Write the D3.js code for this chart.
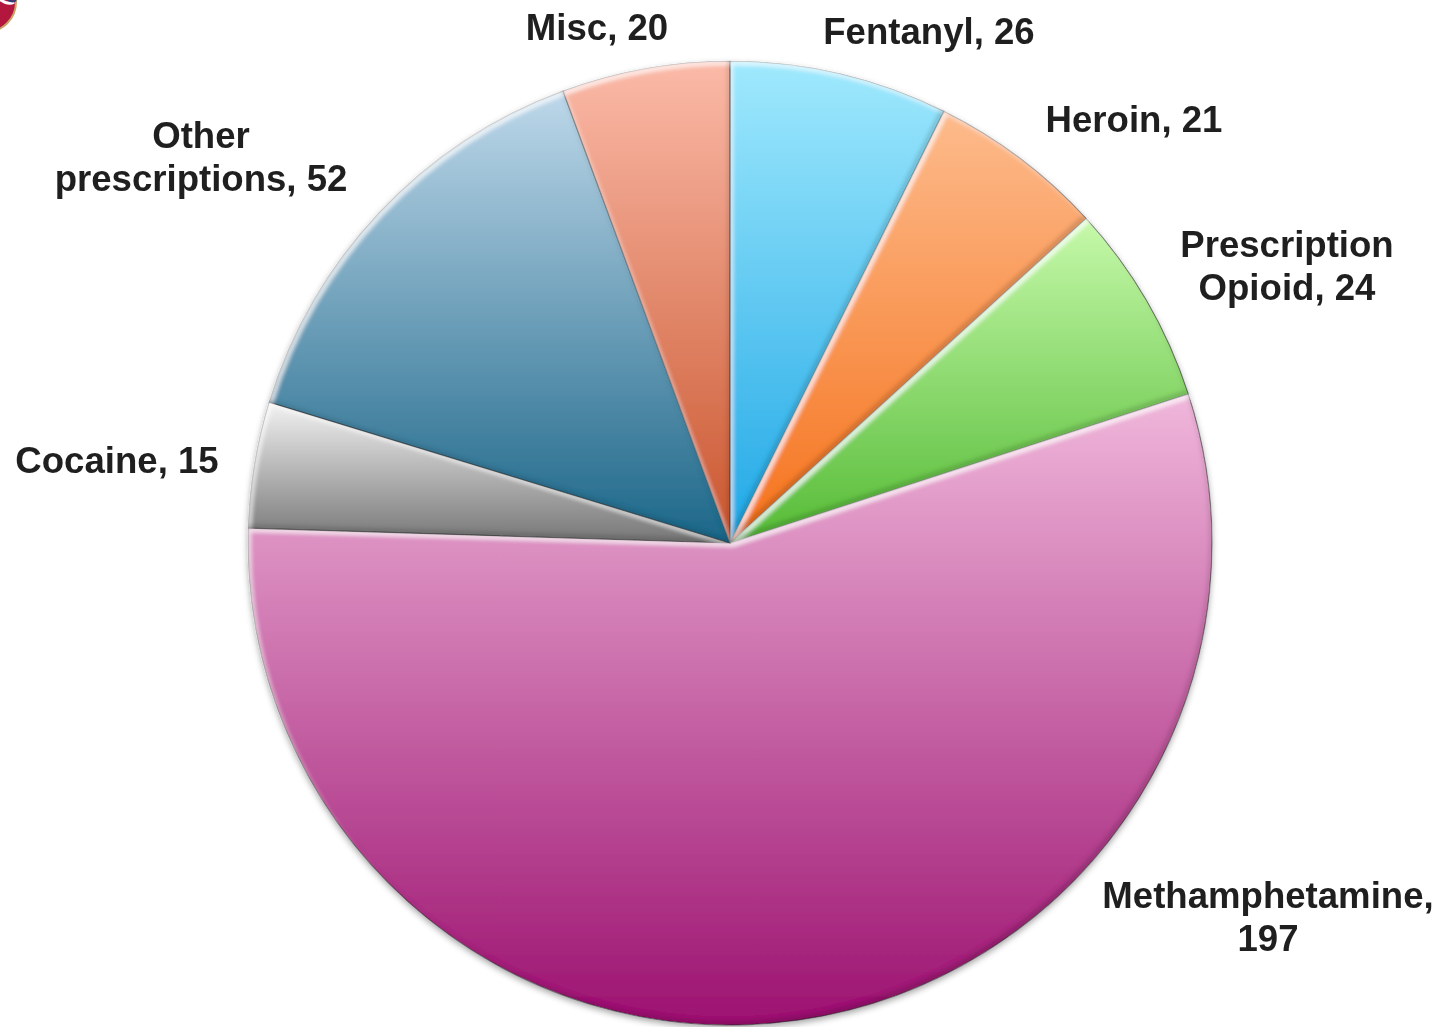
<!DOCTYPE html>
<html>
<head>
<meta charset="utf-8">
<script src="https://cdnjs.cloudflare.com/ajax/libs/d3/7.8.5/d3.min.js"></script>
<style>
  html, body { margin: 0; padding: 0; background: #fff; }
  svg { display: block; }
  .lbl { font-family: "Liberation Sans", Arial, sans-serif; font-weight: bold; font-size: 36.6px; fill: #1f1f1f; }
</style>
</head>
<body>
<svg id="chart" width="1451" height="1027"></svg>
<script>
// data, clockwise from 12 o'clock
var categories = ["Fentanyl", "Heroin", "Prescription Opioid", "Methamphetamine", "Cocaine", "Other prescriptions", "Misc"];
var counts = [26, 21, 24, 197, 15, 52, 20];
// label wraps after this many words (0 = single line)
var wrapAfter = [0, 0, 1, 1, 0, 1, 0];

// gradient colours, top -> bottom of each slice
var topColors = ["#a0e9fd", "#fdbb8c", "#c6f9aa", "#f0b7db", "#f2f2f2", "#bed8ea", "#fbbaa8"];
var bottomColors = ["#20a8e6", "#f5721c", "#55bb36", "#9c1270", "#767676", "#1c6688", "#c9562e"];

// label block centres, relative to pie centre
var labelXY = [[199, -512], [404, -424], [557, -278], [538, 373], [-613, -83], [-529, -387], [-133, -516]];

var svg = d3.select("#chart");
var cx = 730, cy = 543, radius = 482;

var defs = svg.append("defs");

var shadow = defs.append("filter").attr("id", "shadow")
    .attr("x", "-10%").attr("y", "-10%").attr("width", "120%").attr("height", "120%");
shadow.append("feDropShadow").attr("dx", 0).attr("dy", 3).attr("stdDeviation", 3)
    .attr("flood-color", "#000").attr("flood-opacity", 0.35);

// bevel: light band along top-left edges, dark along bottom-right
var bevel = defs.append("filter").attr("id", "bevel")
    .attr("x", "-5%").attr("y", "-5%").attr("width", "110%").attr("height", "110%");
bevel.append("feOffset").attr("in", "SourceAlpha").attr("dx", 3).attr("dy", 4).attr("result", "off1");
bevel.append("feComposite").attr("in", "SourceAlpha").attr("in2", "off1").attr("operator", "out").attr("result", "hiEdge");
bevel.append("feGaussianBlur").attr("in", "hiEdge").attr("stdDeviation", 2).attr("result", "hiBlur");
bevel.append("feFlood").attr("flood-color", "#fff").attr("flood-opacity", 0.8).attr("result", "white");
bevel.append("feComposite").attr("in", "white").attr("in2", "hiBlur").attr("operator", "in").attr("result", "hi");
bevel.append("feOffset").attr("in", "SourceAlpha").attr("dx", -3).attr("dy", -4).attr("result", "off2");
bevel.append("feComposite").attr("in", "SourceAlpha").attr("in2", "off2").attr("operator", "out").attr("result", "loEdge");
bevel.append("feGaussianBlur").attr("in", "loEdge").attr("stdDeviation", 2).attr("result", "loBlur");
bevel.append("feFlood").attr("flood-color", "#000").attr("flood-opacity", 0.35).attr("result", "black");
bevel.append("feComposite").attr("in", "black").attr("in2", "loBlur").attr("operator", "in").attr("result", "lo");
var merge = bevel.append("feMerge").attr("result", "merged");
merge.append("feMergeNode").attr("in", "SourceGraphic");
merge.append("feMergeNode").attr("in", "hi");
merge.append("feMergeNode").attr("in", "lo");
bevel.append("feComposite").attr("in", "merged").attr("in2", "SourceAlpha").attr("operator", "in");

categories.forEach(function(c, i) {
  var g = defs.append("linearGradient").attr("id", "grad" + i)
      .attr("x1", 0).attr("y1", 0).attr("x2", 0).attr("y2", 1);
  g.append("stop").attr("offset", "0%").attr("stop-color", topColors[i]);
  g.append("stop").attr("offset", "100%").attr("stop-color", bottomColors[i]);
});

// corner logo, mostly cut off
var logo = svg.append("g");
logo.append("circle").attr("cx", -14).attr("cy", 2).attr("r", 30)
    .attr("fill", "#b3173d").attr("stroke", "#c9a466").attr("stroke-width", 2);
logo.append("path").attr("d", "M-2,-2 Q8,6 14,2").attr("fill", "none")
    .attr("stroke", "#fff").attr("stroke-width", 3);
logo.append("path").attr("d", "M8,0 Q13,3 16,0").attr("fill", "none")
    .attr("stroke", "#2a3f7a").attr("stroke-width", 2);

var pie = d3.pie().sort(null).value(function(d) { return d; });
var arc = d3.arc().innerRadius(0).outerRadius(radius);
var arcs = pie(counts);

var pieG = svg.append("g")
    .attr("transform", "translate(" + cx + "," + cy + ")")
    .attr("filter", "url(#shadow)");

pieG.selectAll("path")
    .data(arcs)
    .enter().append("path")
      .attr("d", arc)
      .attr("fill", function(d, i) { return "url(#grad" + i + ")"; })
      .attr("stroke", "rgba(40,40,40,0.65)")
      .attr("stroke-width", 1.2)
      .attr("filter", "url(#bevel)");

var labels = svg.append("g")
    .attr("transform", "translate(" + cx + "," + cy + ")");

arcs.forEach(function(d, i) {
  var words = (categories[i] + ", " + counts[i]).split(" ");
  var lines = wrapAfter[i] ? [words.slice(0, wrapAfter[i]).join(" "), words.slice(wrapAfter[i]).join(" ")] : [words.join(" ")];
  var lineH = 43;
  var t = labels.append("text")
      .attr("class", "lbl")
      .attr("text-anchor", "middle");
  lines.forEach(function(line, k) {
    t.append("tspan")
      .attr("x", labelXY[i][0])
      .attr("y", labelXY[i][1] + 13 + (k - (lines.length - 1) / 2) * lineH)
      .text(line);
  });
});
</script>
</body>
</html>
